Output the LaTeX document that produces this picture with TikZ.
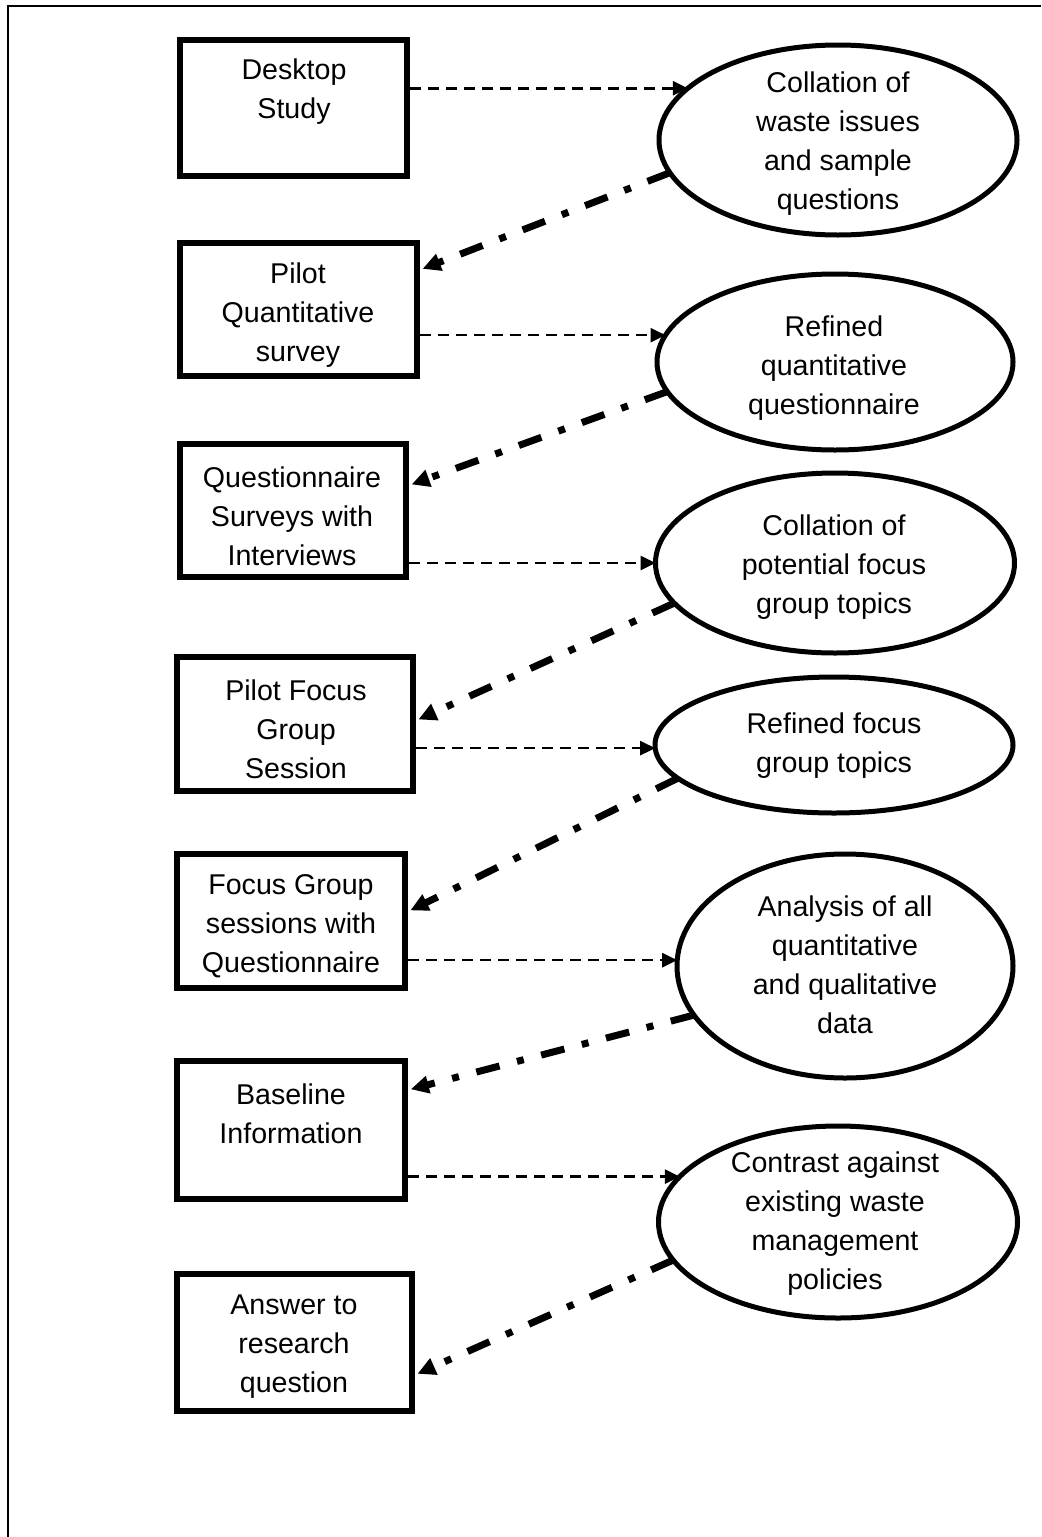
\documentclass[tikz,border=0pt]{standalone}
\usepackage{fontspec}
\setmainfont{Liberation Sans}
\usetikzlibrary{shapes.geometric,arrows.meta}
\begin{document}
\begin{tikzpicture}[x=0.5pt,y=-0.5pt,
  stepbox/.style 2 args={draw, rectangle, line width=2.6pt, minimum width=#1, minimum height=#2, inner sep=0pt, outer sep=0pt},
  oval/.style 2 args={draw, ellipse, line width=2.5pt, minimum width=#1, minimum height=#2, inner sep=0pt, outer sep=0pt},
  lbl/.style={align=center, inner sep=0pt, font=\fontsize{14.3}{19.5}\selectfont},
  feed/.style={line width=1.3pt, dash pattern=on 5.5pt off 3.5pt, -{Triangle[length=7.5pt,width=7pt]}, shorten <=1.5pt},
  back/.style={line width=3.5pt, dash pattern=on 12pt off 9pt on 3.5pt off 9pt, -{Triangle[length=9pt,width=8.5pt]}, shorten >=3pt}
]
\useasboundingbox (0,0) rectangle (1041,1537);
% outer frame
\draw[line width=1pt] (8,1537) -- (8,6) -- (1041,6);

% process boxes (left column)
\node[stepbox={113.5pt}{68pt}] (b1) at (293.5,108) {};
\node[stepbox={118.5pt}{66.5pt}] (b2) at (298.5,309.5) {};
\node[stepbox={113pt}{66.5pt}] (b3) at (293,510.5) {};
\node[stepbox={118pt}{67pt}] (b4) at (295,724) {};
\node[stepbox={114pt}{67pt}] (b5) at (291,921) {};
\node[stepbox={114pt}{69pt}] (b6) at (291,1130) {};
\node[stepbox={117.5pt}{68.5pt}] (b7) at (294.5,1342.5) {};

\node[lbl] (t1) at (294,92) {Desktop\\Study};
\node[lbl] (t2) at (298,315) {Pilot\\Quantitative\\survey};
\node[lbl] (t3) at (292,516) {Questionnaire\\Surveys with\\Interviews};
\node[lbl] (t4) at (296,729) {Pilot Focus\\Group\\Session};
\node[lbl] (t5) at (291,926) {Focus Group\\sessions with\\Questionnaire};
\node[lbl] (t6) at (291,1114) {Baseline\\Information};
\node[lbl] (t7) at (294,1347) {Answer to\\research\\question};

% outcome ellipses (right column)
\node[oval={179pt}{95pt}] (e1) at (838,140) {};
\node[oval={178pt}{88pt}] (e2) at (835,362) {};
\node[oval={179.5pt}{90pt}] (e3) at (835,563) {};
\node[oval={179pt}{68pt}] (e4) at (834,745) {};
\node[oval={168pt}{112pt}] (e5) at (845,966) {};
\node[oval={179.5pt}{96pt}] (e6) at (838,1222) {};

\node[lbl] (u1) at (838,144) {Collation of\\waste issues\\and sample\\questions};
\node[lbl] (u2) at (834,368) {Refined\\quantitative\\questionnaire};
\node[lbl] (u3) at (834,567) {Collation of\\potential focus\\group topics};
\node[lbl] (u4) at (834,746) {Refined focus\\group topics};
\node[lbl] (u5) at (845,965) {Analysis of all\\quantitative\\and qualitative\\data};
\node[lbl] (u6) at (835,1224) {Contrast against\\existing waste\\management\\policies};

% forward links: box -> ellipse
\draw[feed] (b1.east |- e1.161.5) -- (e1.161.5);
\draw[feed] (b2.east |- e2.171.7) -- (e2.171.7);
\draw[feed] (b3.east |- e3.180) -- (e3.180);
\draw[feed] (b4.east |- e4.181) -- (e4.181);
\draw[feed] (b5.east |- e5.178.6) -- (e5.178.6);
\draw[feed] (b6.east |- e6.164.5) -- (e6.164.5);

% return links: ellipse -> next box
\draw[back] (e1.191.1) -- (b2.18.2);
\draw[back] (e2.190) -- (b3.12.5);
\draw[back] (e3.194.4) -- (b4.1);
\draw[back] (e4.192.7) -- (b5.4.4);
\draw[back] (e5.198.7) -- (b6.19.9);
\draw[back] (e6.193) -- (b7.344.3);
\end{tikzpicture}
\end{document}
